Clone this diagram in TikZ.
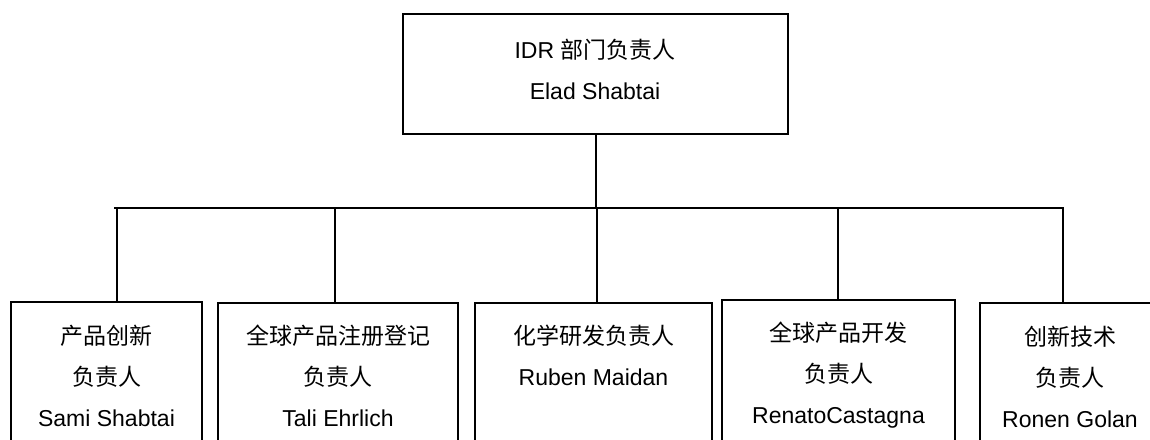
\documentclass[tikz,border=0pt]{standalone}
\usepackage{fontspec}
\setmainfont{Liberation Sans}
\newfontfamily\cjk{Noto Sans CJK SC}
\newcommand{\zh}[1]{{\cjk #1}}
\begin{document}
\begin{tikzpicture}[x=1pt,y=-1pt,
  box/.style={draw=black,line width=1.6pt,rectangle,inner sep=0pt},
  lbl/.style={align=center,font=\fontsize{23}{41}\selectfont,inner sep=0pt},
  link/.style={line width=1.6pt,draw=black}]
\clip (0,0) rectangle (1150,439);
\path[use as bounding box] (0,0) rectangle (1150,439);
% top box
\node[box,minimum width=385pt,minimum height=120pt] (top) at (595.5,74) {};
\node[lbl] (toplbl) at (595,69) {IDR \zh{部门负责人}\\Elad Shabtai};
% bottom boxes
\node[box,minimum width=191pt,minimum height=168pt] (b1) at (106.5,386) {};
\node[box,minimum width=240pt,minimum height=167pt] (b2) at (338,386.5) {};
\node[box,minimum width=237pt,minimum height=167pt] (b3) at (593.5,386.5) {};
\node[box,minimum width=233pt,minimum height=170pt] (b4) at (838.5,385) {};
\node[box,minimum width=180pt,minimum height=167pt] (b5) at (1070,386.5) {};
% labels
\node[lbl] (l1) at (106.5,376) {\zh{产品创新}\\\zh{负责人}\\Sami Shabtai};
\node[lbl] (l2) at (338,376) {\zh{全球产品注册登记}\\\zh{负责人}\\Tali Ehrlich};
\node[lbl] (l3) at (593.5,355) {\zh{化学研发负责人}\\Ruben Maidan};
\node[lbl] (l4) at (838.5,375) {\zh{全球产品开发}\\\zh{负责人}\\RenatoCastagna};
\node[lbl] (l5) at (1070,377) {\zh{创新技术}\\\zh{负责人}\\Ronen Golan};
% connectors
\coordinate (barL) at (114,208);
\coordinate (barR) at (1064,208);
\coordinate (tc) at (596,208);
\coordinate (d1) at (117,208);
\coordinate (d2) at (335,208);
\coordinate (d3) at (597,208);
\coordinate (d4) at (838,208);
\coordinate (d5) at (1063,208);
\draw[link] (tc |- top.south) -- (tc);
\draw[link] (barL) -- (barR);
\draw[link] (d1) -- (d1 |- b1.north);
\draw[link] (d2) -- (d2 |- b2.north);
\draw[link] (d3) -- (d3 |- b3.north);
\draw[link] (d4) -- (d4 |- b4.north);
\draw[link] (d5) -- (d5 |- b5.north);
\end{tikzpicture}
\end{document}
